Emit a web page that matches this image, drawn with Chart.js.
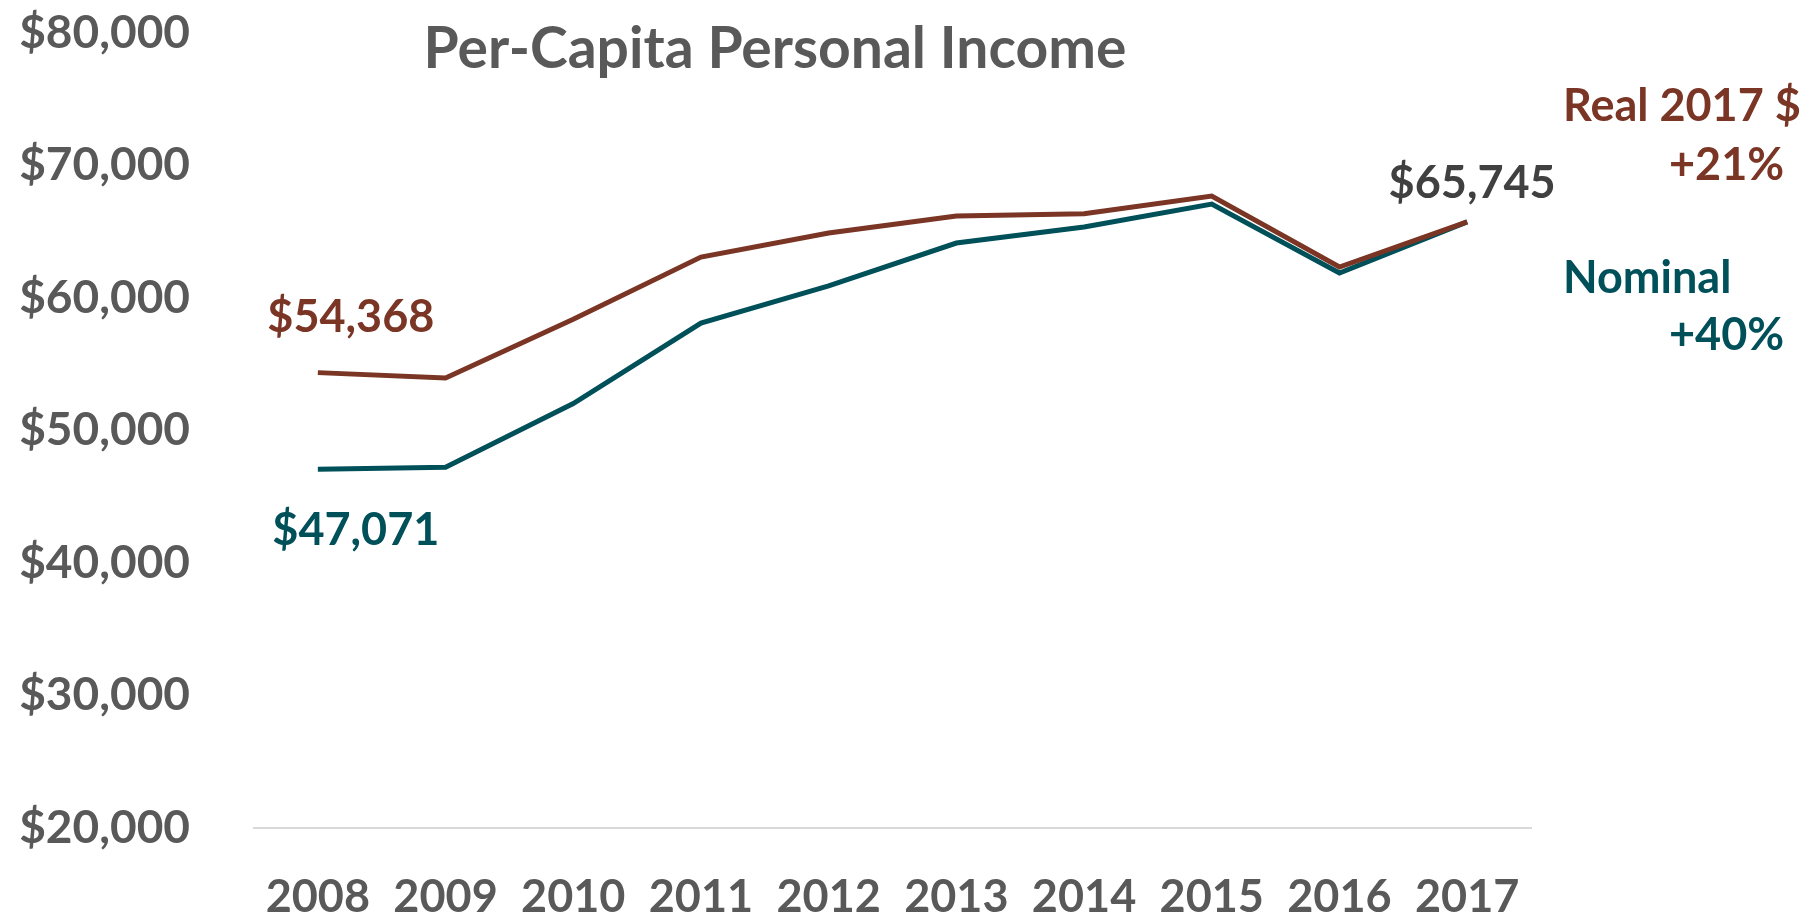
<!DOCTYPE html>
<html>
<head>
<meta charset="utf-8">
<script src="https://cdn.jsdelivr.net/npm/chart.js@4"></script>
<style>
  html, body { margin: 0; padding: 0; background: #fff; }
  canvas { display: block; }
</style>
</head>
<body>
<canvas id="canvas" width="1808" height="917"></canvas>
<script>
const years = ["2008", "2009", "2010", "2011", "2012", "2013", "2014", "2015", "2016", "2017"];
const realIncome = [54368, 53960, 58390, 63090, 64900, 66190, 66360, 67700, 62340, 65745];
const nominalIncome = [47071, 47220, 52030, 58110, 60910, 64150, 65360, 67090, 61890, 65745];
const yTicks = [20000, 30000, 40000, 50000, 60000, 70000, 80000];

const brown = '#7a3525';
const teal = '#00505a';
const gray = '#595959';
const font = 'Lato, "Open Sans", sans-serif';

function money(v) {
    return '$' + v.toLocaleString('en-US');
}

// text on top of the chart: title, end labels, series names
const notes = {
    id: 'notes',
    afterDraw(chart) {
        const ctx = chart.ctx;
        const x = chart.scales.x, y = chart.scales.y;
        ctx.save();
        ctx.textBaseline = 'middle';

        ctx.font = 'bold 57px ' + font;
        ctx.fillStyle = gray;
        ctx.textAlign = 'center';
        ctx.fillText('Per-Capita Personal Income', 775, 50);

        ctx.font = 'bold 45px ' + font;
        ctx.fillStyle = brown;
        ctx.fillText(money(realIncome[0]), x.getPixelForValue(0) + 33, y.getPixelForValue(realIncome[0]) - 55);
        ctx.fillStyle = teal;
        ctx.fillText(money(nominalIncome[0]), x.getPixelForValue(0) + 38, y.getPixelForValue(nominalIncome[0]) + 61);
        const last = years.length - 1;
        ctx.fillStyle = '#404040';
        ctx.fillText(money(realIncome[last]), x.getPixelForValue(last) + 5, y.getPixelForValue(realIncome[last]) - 38);

        ctx.textAlign = 'left';
        ctx.fillStyle = brown;
        ctx.fillText('Real 2017 $', 1563, 106);
        ctx.fillText('+21%', 1669, 165);
        ctx.fillStyle = teal;
        ctx.fillText('Nominal', 1563, 278);
        ctx.fillText('+40%', 1669, 335);
        ctx.restore();
    }
};

function create() {
    const data = {
        labels: years,
        datasets: [
            {
                label: 'Real 2017 $',
                data: realIncome,
                borderColor: brown,
                borderWidth: 5,
                pointRadius: 0,
                fill: false,
                tension: 0
            },
            {
                label: 'Nominal',
                data: nominalIncome,
                borderColor: teal,
                borderWidth: 5,
                pointRadius: 0,
                fill: false,
                tension: 0
            }]
    };
    const config = {
        type: 'line',
        data: data,
        options: {
            responsive: false,
            animation: false,
            layout: { padding: { left: 0, right: 277, top: 33, bottom: 0 } },
            plugins: { legend: { display: false }, tooltip: { enabled: false } },
            scales: {
                x: {
                    offset: true,
                    grid: { display: false, drawTicks: false },
                    border: { display: true, color: '#d9d9d9', width: 2 },
                    ticks: { color: gray, font: { family: font, size: 45, weight: 'bold' }, padding: 42, maxRotation: 0 },
                    afterFit(scale) { scale.height = 89; scale.paddingLeft = 0; scale.paddingRight = 0; }
                },
                y: {
                    min: 20000,
                    max: 80000,
                    afterBuildTicks(scale) { scale.ticks = yTicks.map(v => ({ value: v })); },
                    grid: { display: false, drawTicks: false },
                    border: { display: false },
                    ticks: {
                        color: gray,
                        font: { family: font, size: 46, weight: 'bold' },
                        padding: 64,
                        callback: v => money(v)
                    },
                    afterFit(scale) { scale.width = 254; scale.paddingTop = 0; scale.paddingBottom = 0; }
                }
            }
        },
        plugins: [notes]
    };

    var canvas = document.getElementById("canvas");
    const chart = new Chart(canvas, config);
}
create();
</script>
</body>
</html>
